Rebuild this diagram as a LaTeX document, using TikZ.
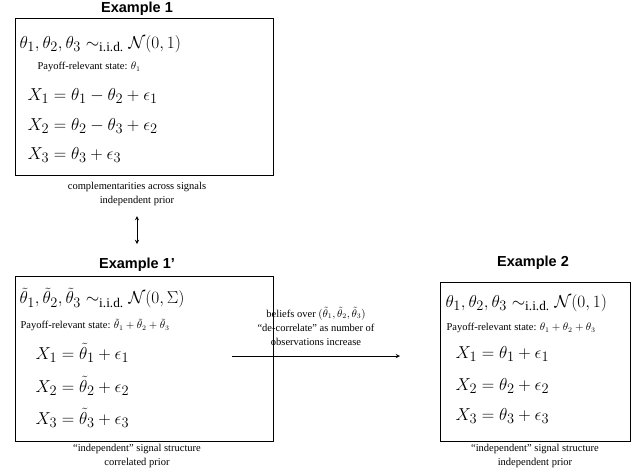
\documentclass[tikz,border=0pt]{standalone}
\usepackage{amsmath}
\usepackage{fontspec}
\setmainfont{Liberation Serif}
\setsansfont{Liberation Sans}
\begin{document}
\begin{tikzpicture}[x=1pt,y=-1pt,
  box/.style={draw,line width=0.8pt},
  ttl/.style={font=\sffamily\bfseries\fontsize{14.5}{16}\selectfont},
  captext/.style={font=\fontsize{10.5}{14}\selectfont,align=center},
  big/.style={font=\fontsize{19}{21}\selectfont,anchor=west},
  sm/.style={font=\fontsize{10.5}{12}\selectfont,anchor=west}]
\useasboundingbox (0,0) rectangle (640,472);
% Example 1
\node[ttl] (t1) at (137,9) {Example 1};
\draw[box] (15,18) rectangle (273,175);
\node[big] (a1) at (16,44) {$\theta_1,\theta_2,\theta_3\sim_{\text{i.i.d.}}\mathcal N(0,1)$};
\node[sm] (a2) at (34,67) {Payoff-relevant state: $\theta_1$};
\node[big] (a3) at (24,96) {$X_1=\theta_1-\theta_2+\epsilon_1$};
\node[big] (a4) at (24,126) {$X_2=\theta_2-\theta_3+\epsilon_2$};
\node[big] (a5) at (24,155) {$X_3=\theta_3+\epsilon_3$};
\node[captext] (c1) at (137,194) {complementarities across signals\\independent prior};
% Example 1'
\node[ttl] (t2) at (137,265) {Example 1’};
\draw[box] (15,276) rectangle (273,441);
\node[big] (b1) at (16,298) {$\tilde\theta_1,\tilde\theta_2,\tilde\theta_3\sim_{\text{i.i.d.}}\mathcal N(0,\Sigma)$};
\node[sm] (b2) at (17,325) {Payoff-relevant state: $\tilde\theta_1+\tilde\theta_2+\tilde\theta_3$};
\node[big] (b3) at (32,353) {$X_1=\tilde\theta_1+\epsilon_1$};
\node[big] (b4) at (32,386) {$X_2=\tilde\theta_2+\epsilon_2$};
\node[big] (b5) at (32,418) {$X_3=\tilde\theta_3+\epsilon_3$};
\node[captext] (c2) at (137,456) {“independent” signal structure\\correlated prior};
\coordinate (u) at (137,216);
\coordinate (d) at (137,244);
\draw[<->,>=stealth,line width=0.9pt] (u) -- (d);
% Example 2
\node[ttl] (t3) at (533,263) {Example 2};
\draw[box] (440,282) rectangle (630,441);
\node[big] (e1) at (442,303) {$\theta_1,\theta_2,\theta_3\sim_{\text{i.i.d.}}\mathcal N(0,1)$};
\node[sm] (e2) at (443,328) {Payoff-relevant state: $\theta_1+\theta_2+\theta_3$};
\node[big] (e3) at (452,354) {$X_1=\theta_1+\epsilon_1$};
\node[big] (e4) at (452,386) {$X_2=\theta_2+\epsilon_2$};
\node[big] (e5) at (452,416) {$X_3=\theta_3+\epsilon_3$};
\node[captext] (c3) at (535,456) {“independent” signal structure\\independent prior};
% arrow
\coordinate (l) at (232,356);
\coordinate (r) at (400,356);
\draw[->,>=stealth,line width=0.9pt] (l) -- (r);
\node[captext] (m) at (316,326) {beliefs over $(\tilde\theta_1,\tilde\theta_2,\tilde\theta_3)$\\“de-correlate” as number of\\observations increase};
\end{tikzpicture}
\end{document}
